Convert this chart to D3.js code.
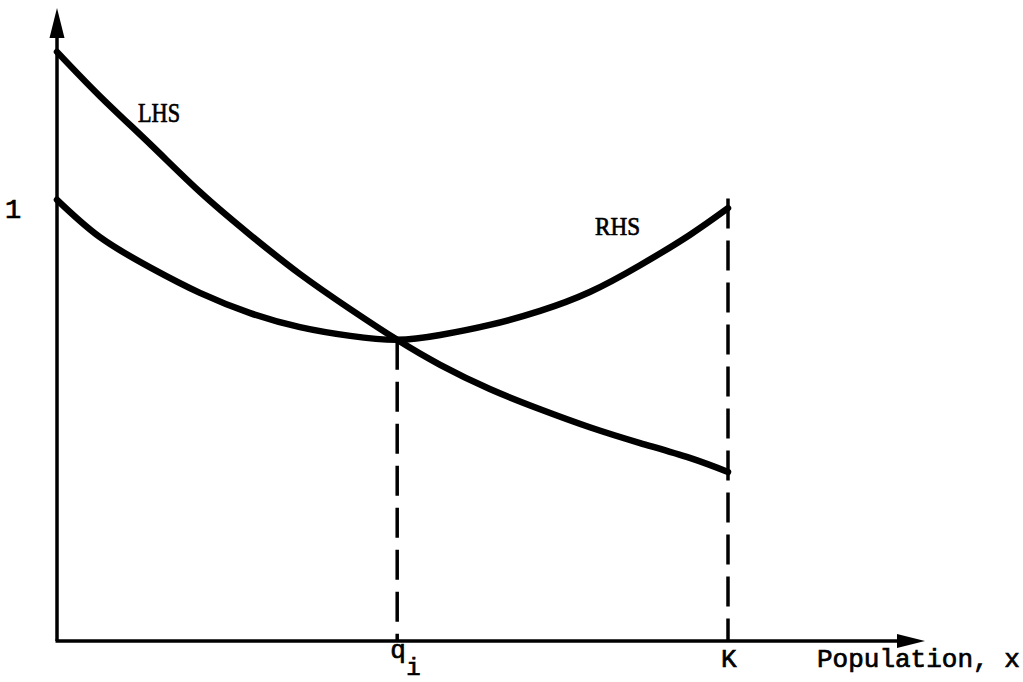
<!DOCTYPE html>
<html>
<head>
<meta charset="utf-8">
<script src="https://cdn.jsdelivr.net/npm/d3@7"></script>
<style>
  html, body { margin: 0; padding: 0; background: #fff; }
  svg { display: block; }
</style>
</head>
<body>
<svg id="chart" width="1023" height="682"></svg>
<script>
// x as a share of K, y relative to the level "1"
const xs  = [0, 0.064, 0.14, 0.213, 0.288, 0.362, 0.437, 0.507, 0.571, 0.645, 0.72, 0.794, 0.869, 0.943, 1];
const lhs = [1.342, 1.241, 1.130, 1.023, 0.925, 0.836, 0.756, 0.686, 0.629, 0.574, 0.528, 0.487, 0.451, 0.417, 0.385];
const rhs = [1.005, 0.920, 0.850, 0.793, 0.747, 0.715, 0.695, 0.686, 0.697, 0.720, 0.752, 0.795, 0.856, 0.925, 0.986];
const qi = 0.507, K = 1;
const markers = [{x: qi, top: 0.686, label: "q", sub: "i"}, {x: K, top: 1.008, label: "K", sub: ""}];

const svg = d3.select("#chart");

const x = d3.scaleLinear().domain([0, 1]).range([57, 728]);
const y = d3.scaleLinear().domain([0, 1]).range([641, 202]);

const xEnd = x.invert(925), yEnd = y.invert(8);

// axes
svg.append("line")
  .attr("x1", x(0)).attr("y1", y(0)).attr("x2", x(0)).attr("y2", y(yEnd) + 20)
  .attr("stroke", "#000").attr("stroke-width", 3.5);
svg.append("line")
  .attr("x1", x(0) - 1.5).attr("y1", y(0)).attr("x2", x(xEnd) - 20).attr("y2", y(0))
  .attr("stroke", "#000").attr("stroke-width", 3.5);

svg.append("path")
  .attr("d", `M${x(0)},${y(yEnd)} L${x(0) - 7.5},${y(yEnd) + 30} L${x(0) + 7.5},${y(yEnd) + 30} Z`)
  .attr("fill", "#000");
svg.append("path")
  .attr("d", `M${x(xEnd)},${y(0)} L${x(xEnd) - 28},${y(0) - 7} L${x(xEnd) - 28},${y(0) + 7} Z`)
  .attr("fill", "#000");

// dashed drop lines
svg.selectAll("line.drop")
  .data(markers)
  .join("line")
  .attr("class", "drop")
  .attr("x1", d => x(d.x)).attr("x2", d => x(d.x))
  .attr("y1", d => y(d.top)).attr("y2", y(0))
  .attr("stroke", "#000").attr("stroke-width", 3.5)
  .attr("stroke-dasharray", "30,12");

// curves
const line = d3.line()
  .x(d => x(d[0]))
  .y(d => y(d[1]))
  .curve(d3.curveNatural);

[lhs, rhs].forEach(s => {
  svg.append("path")
    .attr("d", line(xs.map((v, i) => [v, s[i]])))
    .attr("fill", "none")
    .attr("stroke", "#000")
    .attr("stroke-width", 6.5)
    .attr("stroke-linecap", "round");
});

// labels
const serif = "'Liberation Serif', 'DejaVu Serif', serif";
const mono = "'Liberation Mono', 'DejaVu Sans Mono', monospace";

function label(tx, ty, str, fam, size) {
  return svg.append("text").attr("x", tx).attr("y", ty)
    .attr("font-family", fam).attr("font-size", size)
    .attr("stroke", "#000").attr("stroke-width", 0.7)
    .text(str);
}

label(5, 218, "1", mono, 27);
label(138, 122, "LHS", serif, 27).attr("textLength", 42).attr("lengthAdjust", "spacingAndGlyphs");
label(595, 235, "RHS", serif, 26).attr("textLength", 45).attr("lengthAdjust", "spacingAndGlyphs");

markers.forEach(d => {
  label(x(d.x) - 7, d.sub ? 658 : 667, d.label, mono, 26);
  if (d.sub) label(x(d.x) + 9, 675, d.sub, mono, 24);
});

label(817, 667, "Population, x", mono, 26);
</script>
</body>
</html>
